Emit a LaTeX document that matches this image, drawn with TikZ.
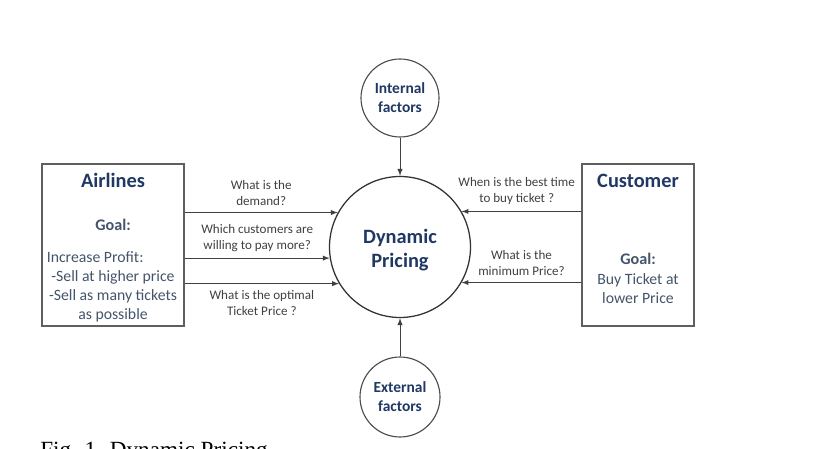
\documentclass[tikz,border=0pt]{standalone}
\usepackage{fontspec}
\setmainfont{Carlito}
\newfontfamily\capfont{Liberation Serif}
\usepackage{tikz}
\usetikzlibrary{arrows,calc}

\definecolor{navy}{RGB}{31,56,100}
\definecolor{slate}{RGB}{68,84,106}
\definecolor{labelgray}{RGB}{64,64,64}
\definecolor{linegray}{RGB}{95,95,95}

\begin{document}
\begin{tikzpicture}[>=latex]
			\tikzstyle{box}=[draw=linegray, line width=0.9pt, minimum height=4.05cm, inner sep=0pt]
			\tikzstyle{bigcirc}=[circle, draw=black!80, line width=0.9pt, align=center, text=navy, font=\bfseries\fontsize{14.5}{17}\selectfont]
			\tikzstyle{factor}=[circle, draw=black!70, line width=0.8pt, align=center, text=navy, font=\bfseries\fontsize{11}{13.5}\selectfont]
			\tikzstyle{title}=[text=navy, font=\bfseries\fontsize{14.5}{17}\selectfont]
			\tikzstyle{body}=[text=slate, align=center, font=\fontsize{11.2}{13.5}\selectfont, inner sep=0pt]
			\tikzstyle{question}=[text=labelgray, align=center, font=\fontsize{9.3}{11.5}\selectfont]
			\tikzstyle{flow}=[->, draw=black!75, line width=0.7pt]

			\useasboundingbox (0,0) rectangle (20.5,11.2);

			\node (airl) [box, minimum width=3.55cm] at (2.825,5.075) {};
			\node (cust) [box, minimum width=2.8cm] at (15.95,5.075) {};

			\node (dp) [bigcirc, minimum size=3.525cm] at (10,5.025) {};
			\node (dpT) [align=center, text=navy, font=\bfseries\fontsize{14.5}{17}\selectfont] at ($(dp.center) + (0,-0.07)$) {Dynamic\\Pricing};
			\node (int) [factor, minimum size=1.95cm] at (10,8.75) {Internal\\factors};
			\node (ext) [factor, minimum size=2cm] at (10,1.275) {External\\factors};

			% airline side
			\node (airlT) [title] at ($(airl.north) + (0,-0.43)$) {Airlines};
			\node (airlG) [body, font=\bfseries\fontsize{11.5}{13.5}\selectfont] at ($(airl.north) + (0,-1.55)$) {Goal:};
			\node (airlP) [body, anchor=west] at ($(airl.west) + (0.13,-0.3)$) {Increase Profit:};
			\node (airlS) [body] at ($(airl.south) + (0,0.75)$) {-Sell at higher price\\-Sell as many tickets\\as possible};

			% customer side
			\node (custT) [title] at ($(cust.north) + (0,-0.43)$) {Customer};
			\node (custG) [body, font=\bfseries\fontsize{11.5}{13.5}\selectfont] at ($(cust.north) + (0,-2.4)$) {Goal:};
			\node (custB) [body] at ($(cust.south) + (0,0.95)$) {Buy Ticket at\\lower Price};

			\draw [flow] (dp.151 -| airl.east) -- (dp.151) node[midway, above=1pt, question] {What is the\\demand?};
			\draw [flow] (dp.189 -| airl.east) -- (dp.189) node[midway, above=1pt, question] {Which customers are\\willing to pay more?};
			\draw [flow] (dp.211 -| airl.east) -- (dp.211) node[midway, below=1pt, question] {What is the optimal\\Ticket Price ?};

			\draw [flow] (dp.30 -| cust.west) -- (dp.30) node[midway, above=1pt, xshift=-0.12cm, question] {When is the best time\\to buy ticket ?};
			\draw [flow] (dp.330 -| cust.west) -- (dp.330) node[midway, above=1pt, question] {What is the\\minimum Price?};

			\draw [flow] (int) -- (dp);
			\draw [flow] (ext) -- (dp);

			\begin{scope}
				\clip (0,0) rectangle (20.5,11.2);
				\node (cap) [anchor=base west, inner sep=0pt, font=\capfont\fontsize{16.5}{18}\selectfont] at (1.0,-0.24) {Fig. 1. Dynamic Pricing};
			\end{scope}
		\end{tikzpicture}
\end{document}
